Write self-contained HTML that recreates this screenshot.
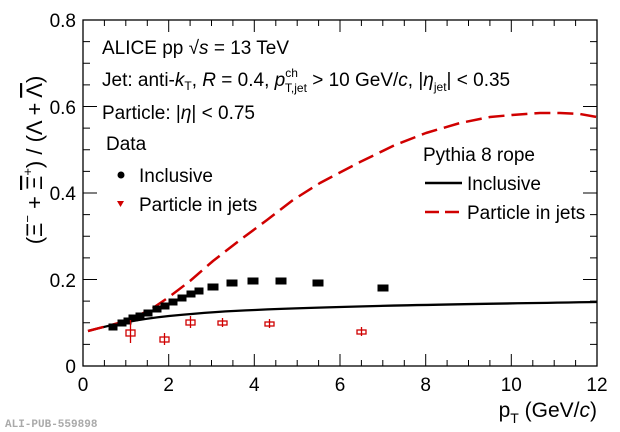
<!DOCTYPE html>
<html><head><meta charset="utf-8"><style>
body{margin:0;background:#fff}
svg{display:block;font-family:"Liberation Sans",Arial,sans-serif}
</style></head><body>
<svg width="620" height="432" viewBox="0 0 620 432" xmlns="http://www.w3.org/2000/svg">
<rect width="620" height="432" fill="#fff"/>
<rect x="83" y="20" width="514" height="346" fill="none" stroke="#000" stroke-width="1.3"/>
<path stroke="#000" stroke-width="1" fill="none" d="
M104.4 366v-6M125.8 366v-6M147.3 366v-6M190.1 366v-6M211.5 366v-6M232.9 366v-6M275.8 366v-6M297.2 366v-6M318.6 366v-6M361.4 366v-6M382.8 366v-6M404.3 366v-6M447.1 366v-6M468.5 366v-6M489.9 366v-6M532.8 366v-6M554.2 366v-6M575.6 366v-6
M168.7 366v-12M254.3 366v-12M340 366v-12M425.7 366v-12M511.3 366v-12
M104.4 20v6M125.8 20v6M147.3 20v6M190.1 20v6M211.5 20v6M232.9 20v6M275.8 20v6M297.2 20v6M318.6 20v6M361.4 20v6M382.8 20v6M404.3 20v6M447.1 20v6M468.5 20v6M489.9 20v6M532.8 20v6M554.2 20v6M575.6 20v6
M168.7 20v12M254.3 20v12M340 20v12M425.7 20v12M511.3 20v12
M83 344.4h7M83 322.8h7M83 301.1h7M83 257.9h7M83 236.3h7M83 214.6h7M83 171.4h7M83 149.8h7M83 128.1h7M83 84.9h7M83 63.3h7M83 41.6h7
M83 279.5h14M83 193h14M83 106.5h14
M597 344.4h-7M597 322.8h-7M597 301.1h-7M597 257.9h-7M597 236.3h-7M597 214.6h-7M597 171.4h-7M597 149.8h-7M597 128.1h-7M597 84.9h-7M597 63.3h-7M597 41.6h-7
M597 279.5h-14M597 193h-14M597 106.5h-14"/>
<g font-size="19" fill="#000">
<g text-anchor="middle">
<text x="83" y="391">0</text><text x="168.7" y="391">2</text><text x="254.3" y="391">4</text><text x="340" y="391">6</text><text x="425.7" y="391">8</text><text x="511.3" y="391">10</text><text x="597" y="391">12</text>
</g>
<g text-anchor="end">
<text x="76" y="373">0</text><text x="76" y="287">0.2</text><text x="76" y="200">0.4</text><text x="76" y="114">0.6</text><text x="76" y="27">0.8</text>
</g>
</g>
<text x="597" y="417" font-size="21" text-anchor="end">p<tspan font-size="14" dy="6">T</tspan><tspan dy="-6"> (GeV/</tspan><tspan font-style="italic">c</tspan>)</text>
<text transform="translate(42,160) rotate(-90)" font-size="22" text-anchor="middle">(Ξ<tspan font-size="13" dy="-10">−</tspan><tspan dy="10"> + </tspan><tspan text-decoration="overline">Ξ</tspan><tspan font-size="13" dy="-10">+</tspan><tspan dy="10">) / (Λ + </tspan><tspan text-decoration="overline">Λ</tspan>)</text>
<g font-size="19">
<text x="102" y="54">ALICE pp √<tspan font-style="italic">s</tspan> = 13 TeV</text>
<text x="102" y="86">Jet: anti-<tspan font-style="italic">k</tspan><tspan font-size="12" dy="4">T</tspan><tspan dy="-4">, </tspan><tspan font-style="italic">R</tspan> = 0.4, <tspan font-style="italic">p</tspan><tspan font-size="12" dy="-9">ch</tspan><tspan font-size="12" dx="-13" dy="15">T,jet</tspan><tspan dy="-6"> &gt; 10 GeV/</tspan><tspan font-style="italic">c</tspan>, |<tspan font-style="italic">η</tspan><tspan font-size="12" dy="5">jet</tspan><tspan dy="-5">| &lt; 0.35</tspan></text>
<text x="102" y="119">Particle: |<tspan font-style="italic">η</tspan>| &lt; 0.75</text>
<text x="106" y="150">Data</text>
<text x="139" y="182">Inclusive</text>
<text x="139" y="211">Particle in jets</text>
<text x="423" y="161">Pythia 8 rope</text>
<text x="467" y="190">Inclusive</text>
<text x="467" y="219">Particle in jets</text>
</g>
<circle cx="121" cy="175" r="3.5" fill="#000"/>
<path d="M117 201h7l-3.5 6z" fill="#d00000"/>
<line x1="425" y1="183" x2="462" y2="183" stroke="#000" stroke-width="2.5"/>
<line x1="425" y1="212" x2="462" y2="212" stroke="#d00000" stroke-width="2.5" stroke-dasharray="14,6"/>
<path d="M88 331 C110 325 140 319 169 316 C200 313 225 311 255 310 C340 306 470 304 597 302" fill="none" stroke="#000" stroke-width="2.3"/>
<path d="M88 331 L126 321 L150 310 L169 297 L190 281 L213 261 L240 240 L267 220 L293 200 L320 183 L360 162 L395 145 L426 133 L460 123 L490 117 L512 115 L540 113 L560 113 L580 114 L597 117" fill="none" stroke="#d00000" stroke-width="2.5" stroke-dasharray="16,7" stroke-linejoin="round"/>
<g fill="#000" stroke="#000" stroke-width="1">
<rect x="109" y="324" width="8" height="6"/><rect x="118" y="320" width="8" height="6"/><rect x="124" y="318" width="7" height="6"/><rect x="129" y="315" width="8" height="6"/><rect x="136" y="313" width="8" height="6"/><rect x="144" y="310" width="8" height="6"/><rect x="153" y="306" width="8" height="6"/><rect x="161" y="303" width="8" height="6"/><rect x="169" y="299" width="8" height="6"/><rect x="178" y="295" width="8" height="6"/><rect x="187" y="291" width="8" height="6"/><rect x="195" y="288" width="8" height="6"/><rect x="208" y="284" width="10" height="6"/><rect x="227" y="280" width="10" height="6"/><rect x="248" y="278" width="10" height="6"/><rect x="276" y="278" width="10" height="6"/><rect x="313" y="280" width="10" height="6"/><rect x="378" y="285" width="10" height="6"/>
</g>
<g fill="none" stroke="#d00000" stroke-width="1.3">
<rect x="126" y="330" width="9" height="6"/><line x1="130.5" y1="320" x2="130.5" y2="343"/>
<rect x="160" y="337" width="9" height="5"/><line x1="164.5" y1="333" x2="164.5" y2="345"/>
<rect x="186" y="320" width="9" height="5"/><line x1="190.5" y1="316" x2="190.5" y2="328"/>
<rect x="218" y="321" width="9" height="4"/><line x1="222.5" y1="318" x2="222.5" y2="327"/>
<rect x="265" y="322" width="9" height="4"/><line x1="269.5" y1="319" x2="269.5" y2="328"/>
<rect x="357" y="330" width="9" height="4"/><line x1="361.5" y1="327" x2="361.5" y2="336"/>
</g>
<text x="5" y="427" font-family="Liberation Mono,monospace" font-size="11" fill="#aaa" font-weight="bold">ALI-PUB-559898</text>
</svg>
</body></html>
